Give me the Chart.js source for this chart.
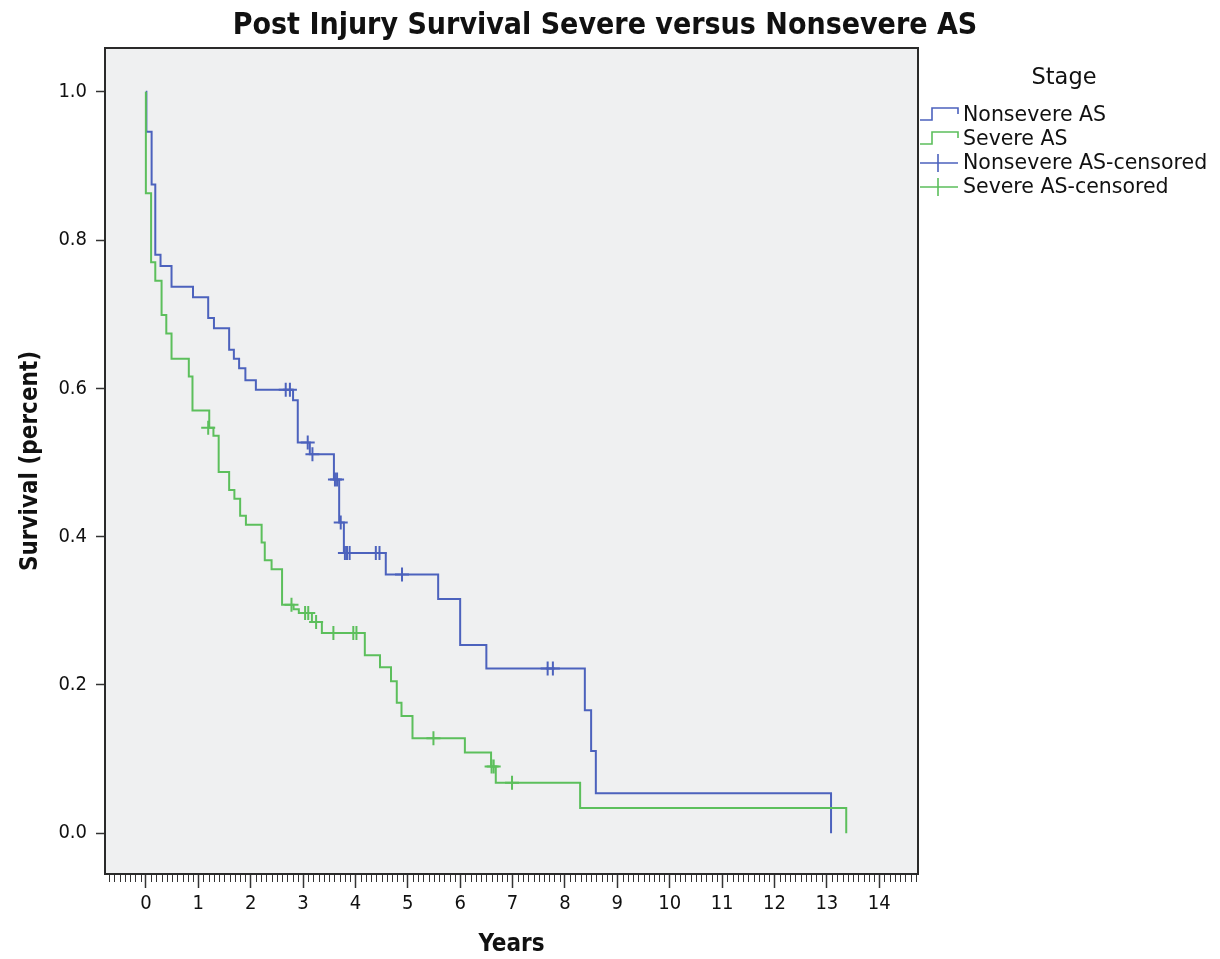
<!DOCTYPE html>
<html><head><meta charset="utf-8">
<script src="https://cdn.jsdelivr.net/npm/chart.js@4/dist/chart.umd.min.js"></script>
<style>html,body{margin:0;padding:0;background:#fff;}canvas{display:block;}</style>
</head><body>
<canvas id="c" width="1220" height="959"></canvas>
<script>
// ---- Data ----
const chartTitle = 'Post Injury Survival Severe versus Nonsevere AS';
const seriesNames = ['Nonsevere AS', 'Severe AS', 'Nonsevere AS-censored', 'Severe AS-censored'];
const legendTitle = 'Stage';

const nonsevereTime = [0, 0.01, 0.11, 0.18, 0.28, 0.49, 0.90, 1.19, 1.30, 1.59, 1.68, 1.78, 1.90, 2.10, 2.81, 2.90, 3.13, 3.59, 3.69, 3.78, 4.58, 5.58, 6.00, 6.50, 8.38, 8.50, 8.59, 13.08];
const nonsevereSurv = [1.0, 0.946, 0.875, 0.780, 0.765, 0.737, 0.723, 0.695, 0.681, 0.652, 0.640, 0.627, 0.611, 0.598, 0.584, 0.527, 0.511, 0.477, 0.419, 0.378, 0.349, 0.316, 0.254, 0.222, 0.166, 0.111, 0.054, 0.0];

const severeTime = [0, 0, 0.10, 0.18, 0.30, 0.39, 0.49, 0.82, 0.89, 1.21, 1.29, 1.39, 1.59, 1.69, 1.80, 1.91, 2.21, 2.27, 2.40, 2.60, 2.82, 2.92, 3.17, 3.36, 4.18, 4.47, 4.68, 4.79, 4.88, 5.09, 6.09, 6.59, 6.68, 8.29, 13.37];
const severeSurv = [1.0, 0.863, 0.770, 0.745, 0.699, 0.674, 0.640, 0.616, 0.570, 0.547, 0.536, 0.487, 0.463, 0.451, 0.428, 0.416, 0.392, 0.368, 0.356, 0.308, 0.302, 0.297, 0.285, 0.270, 0.240, 0.224, 0.205, 0.176, 0.158, 0.128, 0.109, 0.090, 0.068, 0.034, 0.0];

const nonsevereCensTime = [2.67, 2.75, 3.09, 3.18, 3.61, 3.65, 3.72, 3.80, 3.84, 3.89, 4.39, 4.46, 4.89, 7.67, 7.77];
const nonsevereCensSurv = [0.598, 0.598, 0.527, 0.511, 0.477, 0.477, 0.419, 0.378, 0.378, 0.378, 0.378, 0.378, 0.349, 0.222, 0.222];

const severeCensTime = [1.19, 2.78, 3.04, 3.10, 3.25, 3.58, 3.96, 4.02, 5.49, 6.60, 6.64, 6.99];
const severeCensSurv = [0.547, 0.308, 0.297, 0.297, 0.285, 0.270, 0.270, 0.270, 0.128, 0.090, 0.090, 0.068];

const xTickValues = [0,1,2,3,4,5,6,7,8,9,10,11,12,13,14];
const yTickValues = [0.0, 0.2, 0.4, 0.6, 0.8, 1.0];

// ---- Styles ----
const BLUE = '#4c62bd';
const GREEN = '#5cbf5c';
const COND = "'DejaVu Sans Condensed', 'Liberation Sans Narrow', Roboto, sans-serif";
const LEG = "'DejaVu Sans', sans-serif";

const pts = (xs, ys) => xs.map((x, i) => ({x, y: ys[i]}));

const decorPlugin = {
  id: 'decor',
  beforeDraw(chart) {
    const {ctx, chartArea: a} = chart;
    ctx.save();
    ctx.fillStyle = '#ffffff';
    ctx.fillRect(0, 0, chart.width, chart.height);
    ctx.fillStyle = '#eff0f1';
    ctx.fillRect(a.left, a.top, a.right - a.left, a.bottom - a.top);
    ctx.restore();
  },
  afterDraw(chart) {
    const {ctx, chartArea: a} = chart;
    const xs = chart.scales.x;
    ctx.save();
    // minor ticks on x axis (every 0.1 year)
    ctx.strokeStyle = '#333';
    ctx.lineWidth = 1;
    ctx.beginPath();
    const lo = Math.ceil(xs.min * 10), hi = Math.floor(xs.max * 10);
    for (let i = lo; i <= hi; i++) {
      if (i % 10 === 0) continue;
      const px = Math.round(xs.getPixelForValue(i / 10)) + 0.5;
      ctx.moveTo(px, a.bottom);
      ctx.lineTo(px, a.bottom + 8);
    }
    ctx.stroke();
    // plot border
    ctx.strokeStyle = '#2a2a2a';
    ctx.lineWidth = 2;
    ctx.strokeRect(a.left, a.top, a.right - a.left, a.bottom - a.top);

    // legend
    const lx = a.right + 2;
    ctx.fillStyle = '#111';
    ctx.font = '22.5px ' + LEG;
    ctx.textAlign = 'center';
    ctx.textBaseline = 'middle';
    ctx.fillText(legendTitle, 1064, 78);
    ctx.textAlign = 'left';
    ctx.font = '20.5px ' + LEG;
    const rows = [115, 139, 163, 187];
    const cols = [BLUE, GREEN, BLUE, GREEN];
    rows.forEach((y, i) => {
      ctx.strokeStyle = cols[i];
      ctx.lineWidth = 1.6;
      ctx.beginPath();
      if (i < 2) {
        ctx.moveTo(lx, y + 5);
        ctx.lineTo(lx + 12, y + 5);
        ctx.lineTo(lx + 12, y - 7);
        ctx.lineTo(lx + 38, y - 7);
        ctx.lineTo(lx + 38, y - 1);
      } else {
        ctx.moveTo(lx, y);
        ctx.lineTo(lx + 38, y);
        ctx.moveTo(lx + 18, y - 9);
        ctx.lineTo(lx + 18, y + 9);
      }
      ctx.stroke();
      ctx.fillStyle = '#111';
      ctx.fillText(seriesNames[i], lx + 43, y + 1);
    });
    ctx.restore();
  }
};

new Chart(document.getElementById('c'), {
  type: 'line',
  data: {
    datasets: [
      {label: seriesNames[0], data: pts(nonsevereTime, nonsevereSurv), stepped: 'before', borderColor: BLUE, borderWidth: 2, pointRadius: 0, fill: false, order: 3},
      {label: seriesNames[1], data: pts(severeTime, severeSurv), stepped: 'before', borderColor: GREEN, borderWidth: 2, pointRadius: 0, fill: false, order: 2},
      {label: seriesNames[2], data: pts(nonsevereCensTime, nonsevereCensSurv), showLine: false, pointStyle: 'cross', pointRadius: 7, pointBorderWidth: 2, borderColor: BLUE, backgroundColor: BLUE, order: 1},
      {label: seriesNames[3], data: pts(severeCensTime, severeCensSurv), showLine: false, pointStyle: 'cross', pointRadius: 7, pointBorderWidth: 2, borderColor: GREEN, backgroundColor: GREEN, order: 0}
    ]
  },
  options: {
    responsive: false,
    animation: false,
    events: [],
    layout: {padding: {left: 0, right: 10, top: 0, bottom: 0}},
    plugins: {
      legend: {display: false},
      tooltip: {enabled: false},
      title: {
        display: true,
        text: chartTitle,
        color: '#111',
        font: {family: COND, size: 30, weight: 'bold', lineHeight: 1.2},
        padding: {top: 8, bottom: 4},
        align: 'center'
      }
    },
    scales: {
      x: {
        type: 'linear',
        min: -0.78, max: 14.74,
        afterBuildTicks(s) { s.ticks = xTickValues.map(v => ({value: v})); },
        afterFit(s) { s.height = 959 - 874; },
        ticks: {color: '#111', font: {family: COND, size: 20}, padding: 4, maxRotation: 0, autoSkip: false, callback: v => String(v)},
        grid: {display: true, drawOnChartArea: false, drawTicks: true, tickLength: 14, tickColor: '#333', tickWidth: 1.5},
        border: {display: false},
        title: {display: true, text: 'Years', color: '#111', font: {family: COND, size: 24, weight: 'bold', lineHeight: 1.2}, padding: {top: 0, bottom: 0}}
      },
      y: {
        type: 'linear',
        min: -0.055, max: 1.059,
        afterBuildTicks(s) { s.ticks = yTickValues.map(v => ({value: v})); },
        afterFit(s) { s.width = 105; },
        ticks: {color: '#111', font: {family: COND, size: 20}, padding: 9, autoSkip: false, callback: v => v.toFixed(1)},
        grid: {display: true, drawOnChartArea: false, drawTicks: true, tickLength: 9, tickColor: '#333', tickWidth: 1.5},
        border: {display: false},
        title: {display: true, text: 'Survival (percent)', color: '#111', font: {family: COND, size: 24, weight: 'bold', lineHeight: 1.2}, padding: {top: 16, bottom: 0}}
      },
      legendSpace: {
        type: 'linear',
        position: 'right',
        min: 0, max: 1,
        afterFit(s) { s.width = 292; },
        ticks: {display: false},
        grid: {display: false, drawTicks: false},
        border: {display: false}
      }
    }
  },
  plugins: [decorPlugin]
});
</script>
</body></html>
